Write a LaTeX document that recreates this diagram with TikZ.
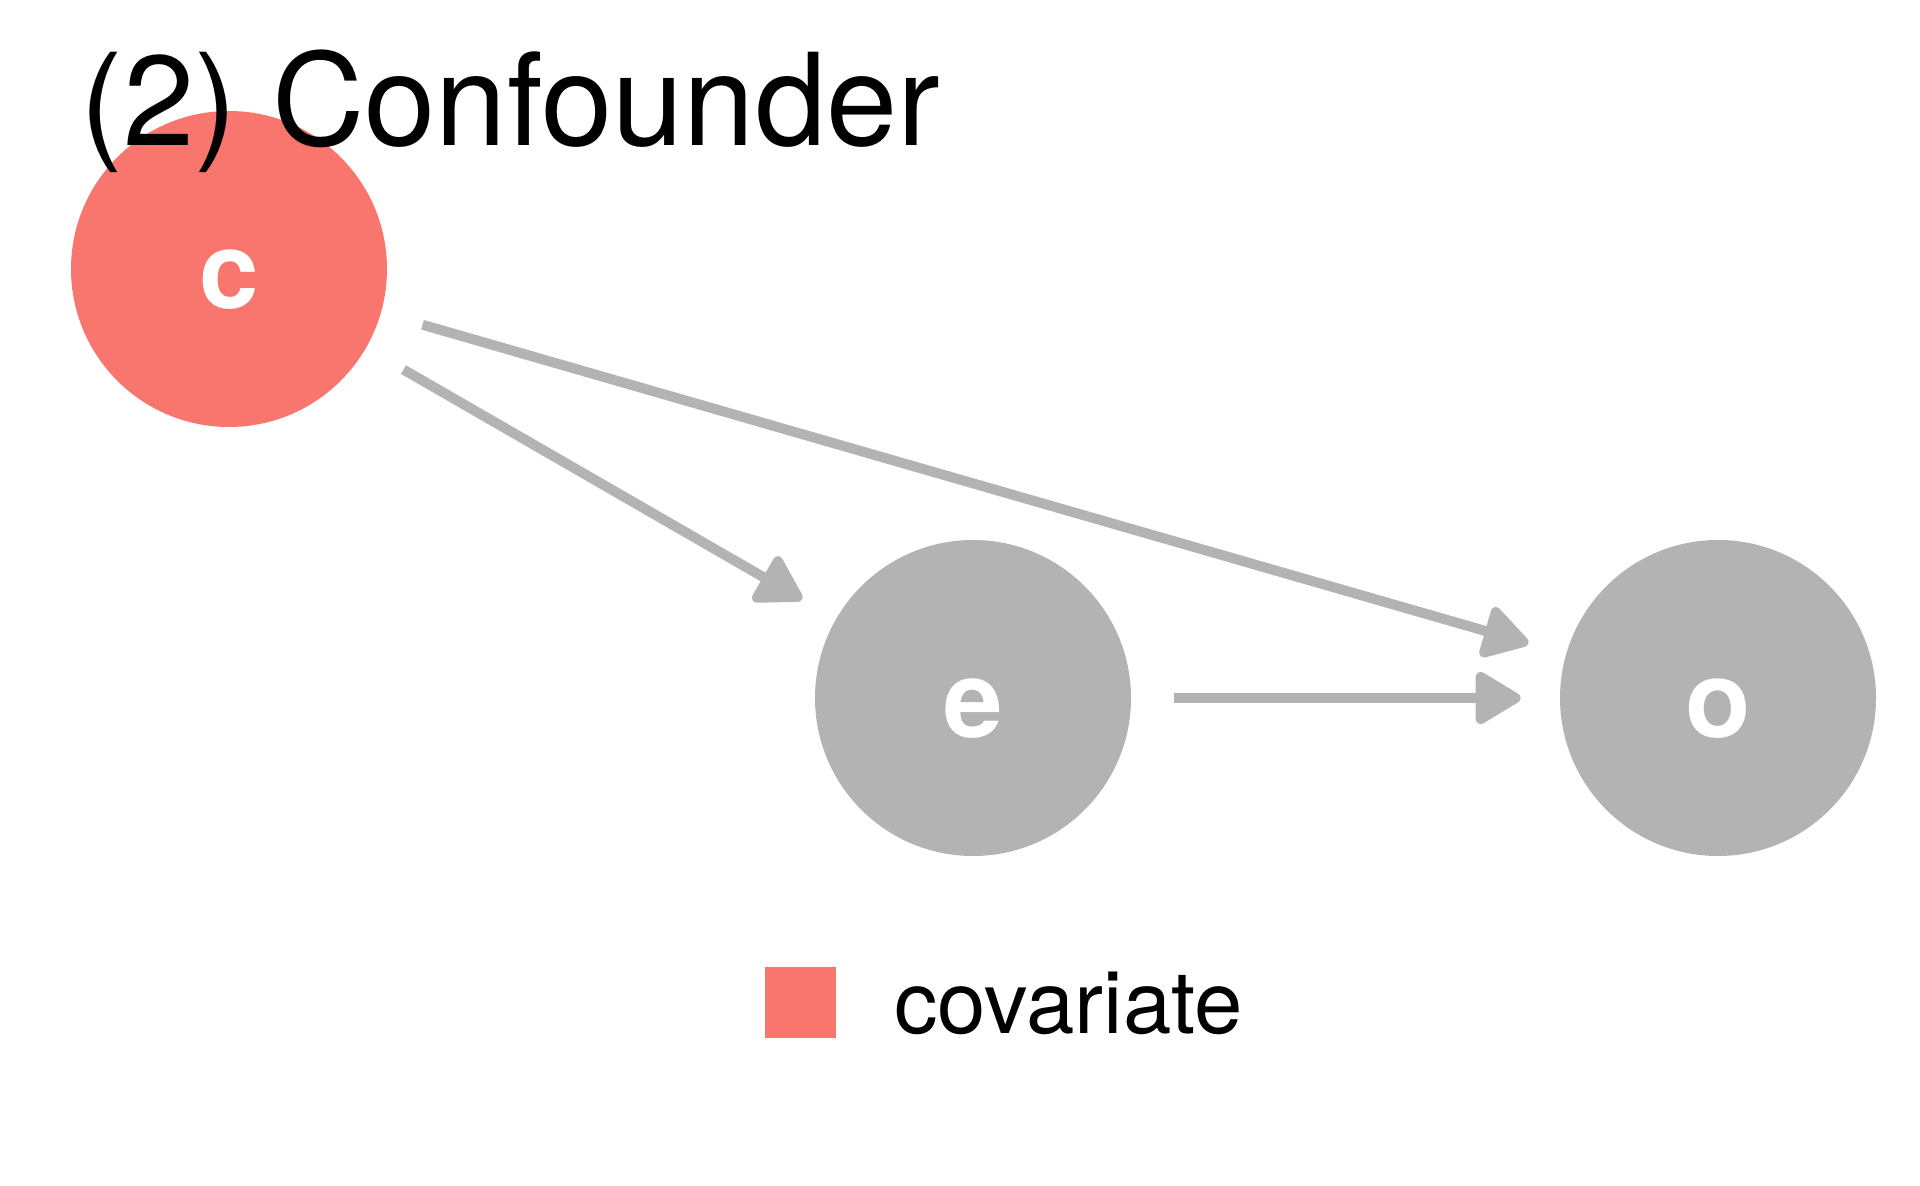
\documentclass[tikz,border=0pt]{standalone}
\usepackage{fontspec}
\setmainfont{TeX Gyre Heros}
\usetikzlibrary{arrows.meta}
\definecolor{covred}{HTML}{F8766D}
\definecolor{edgegray}{HTML}{B3B3B3}
\begin{document}
\begin{tikzpicture}[x=0.5pt,y=-0.5pt,
  dagnode/.style={circle,inner sep=0pt,minimum size=158pt},
  lab/.style={text=white,font=\fontsize{53.5}{60}\selectfont\bfseries,anchor=base,inner sep=0pt},
  dagedge/.style={draw=edgegray,line width=5pt,shorten <=21.5pt,shorten >=19.5pt,-{Triangle[length=25pt,width=28.5pt,round]}}]
\useasboundingbox (0,0) rectangle (1920,1186);
\node[dagnode,fill=covred] (c) at (229,269) {};
\node[dagnode,fill=edgegray] (e) at (973,698) {};
\node[dagnode,fill=edgegray] (o) at (1718,698) {};
\node[lab] (cl) at (229,309) {c};
\node[lab] (el) at (973,737) {e};
\node[lab] (ol) at (1718,737) {o};
\draw[dagedge] (c) -- (e);
\draw[dagedge] (c) -- (o);
\draw[dagedge] (e) -- (o);
\node[fill=covred,minimum size=35.5pt,inner sep=0pt] (key) at (800.5,1002.5) {};
\node[anchor=base west,inner sep=0pt,font=\fontsize{43.5}{50}\selectfont] (keylab) at (894,1033) {covariate};
\node[anchor=base west,inner sep=0pt,font=\fontsize{64}{70}\selectfont] (title) at (80,146) {(2) Confounder};
\end{tikzpicture}
\end{document}
